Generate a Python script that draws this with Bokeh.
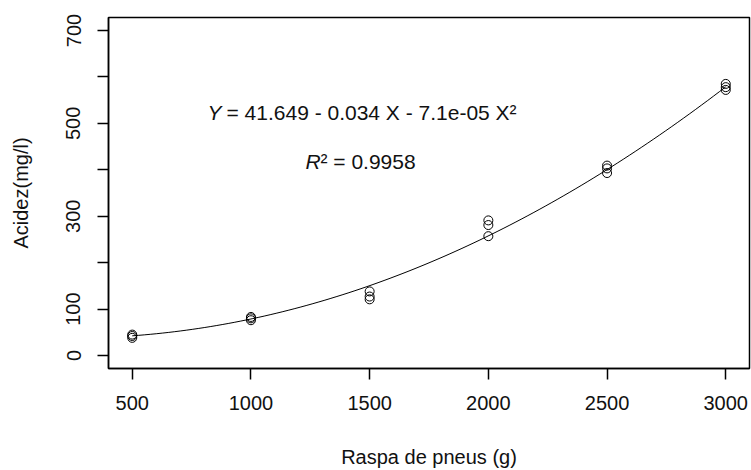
import numpy as np
from bokeh.plotting import figure
from bokeh.models import FixedTicker, Range1d, Label
from bokeh.embed import file_html
from bokeh.resources import INLINE

# --- data ---
raspa_g = [500, 500, 500, 1000, 1000, 1000, 1500, 1500, 1500,
           2000, 2000, 2000, 2500, 2500, 2500, 3000, 3000, 3000]
acidez = [38, 42, 45, 76, 80, 83, 121, 127, 138,
          257, 281, 291, 393, 403, 409, 572, 578, 585]

# fitted quadratic (coefficients as printed on the chart)
coef_a = 41.649
coef_b = -0.034
coef_c = 7.1e-05

x_ticks = [500, 1000, 1500, 2000, 2500, 3000]
y_ticks = [0, 100, 200, 300, 400, 500, 600, 700]
y_tick_labels = {200: "", 400: "", 600: ""}

eq_text = "= 41.649 - 0.034 X - 7.1e-05 X\u00b2"
r2_text = "\u00b2 = 0.9958"
x_title = "Raspa de pneus (g)"
y_title = "Acidez(mg/l)"

FONT = "Liberation Sans"
TXT = "#111111"

p = figure(width=751, height=470, output_backend="svg", toolbar_location=None,
           x_range=Range1d(400, 3100), y_range=Range1d(-28, 728),
           min_border_left=108, min_border_right=2, min_border_top=17,
           min_border_bottom=101)
p.background_fill_color = "white"
p.border_fill_color = "white"
p.outline_line_color = "black"
p.outline_line_width = 1.5
p.xgrid.visible = False
p.ygrid.visible = False

for ax in (p.xaxis[0], p.yaxis[0]):
    ax.axis_line_color = "black"
    ax.axis_line_width = 1.5
    ax.major_tick_line_color = "black"
    ax.major_tick_line_width = 1.5
    ax.major_tick_in = 0
    ax.major_tick_out = 11
    ax.minor_tick_line_color = None
    ax.major_label_text_font = FONT
    ax.major_label_text_font_size = "20px"
    ax.major_label_text_color = TXT
    ax.axis_label_text_font = FONT
    ax.axis_label_text_font_size = "20px"
    ax.axis_label_text_font_style = "normal"
    ax.axis_label_text_color = TXT

p.xaxis.ticker = FixedTicker(ticks=x_ticks)
p.xaxis.axis_label = x_title
p.xaxis.major_label_standoff = 16
p.xaxis.axis_label_standoff = 33

p.yaxis.ticker = FixedTicker(ticks=y_ticks)
p.yaxis.major_label_overrides = y_tick_labels
p.yaxis.major_label_orientation = "vertical"
p.yaxis.axis_label = y_title
p.yaxis.major_label_standoff = 17
p.yaxis.axis_label_standoff = 32

# fitted curve
xs = np.linspace(min(raspa_g), max(raspa_g), 100)
ys = coef_a + coef_b * xs + coef_c * xs ** 2
p.line(xs, ys, line_color="black", line_width=1)

# observations
p.scatter(raspa_g, acidez, marker="circle", size=9, fill_color=None,
          line_color="black", line_width=1)

# annotations
p.add_layout(Label(x=817, y=523, text="Y", text_font=FONT, text_font_size="21px",
                   text_font_style="italic", text_baseline="middle", text_align="left",
                   text_color=TXT))
p.add_layout(Label(x=897, y=523, text=eq_text, text_font=FONT, text_font_size="21px",
                   text_baseline="middle", text_align="left", text_color=TXT))
p.add_layout(Label(x=1230, y=418, text="R", text_font=FONT, text_font_size="21px",
                   text_font_style="italic", text_baseline="middle", text_align="left",
                   text_color=TXT))
p.add_layout(Label(x=1293, y=418, text=r2_text, text_font=FONT, text_font_size="21px",
                   text_baseline="middle", text_align="left", text_color=TXT))

open("out.html", "w").write(file_html(p, INLINE))
